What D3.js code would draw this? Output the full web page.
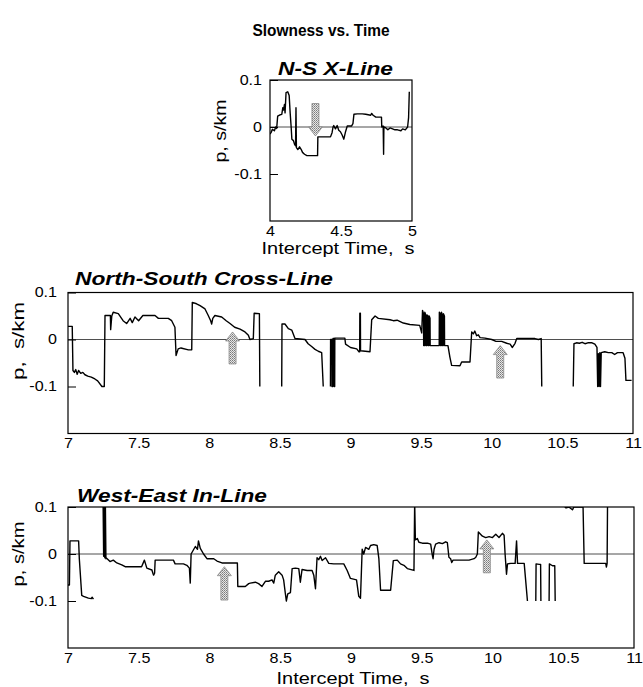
<!DOCTYPE html>
<html>
<head>
<meta charset="utf-8">
<script src="https://cdn.jsdelivr.net/npm/d3@7"></script>
<style>
  body { margin: 0; background: #fff; }
  svg { display: block; }
  text { font-family: "Liberation Sans", Arial, Helvetica, sans-serif; fill: #000; }
</style>
</head>
<body>
<div id="chart"></div>
<script>
// --- data: [intercept time (s), slowness p (s/km)], null = gap
const xlineTrace = [
  [4.000,-0.015],[4.007,-0.012],[4.017,-0.005],[4.031,-0.008],[4.040,0.000],[4.047,-0.003],
  [4.054,0.023],[4.071,0.026],[4.083,0.027],[4.090,0.041],[4.095,0.036],[4.102,0.048],
  [4.106,0.030],[4.113,0.073],[4.125,0.075],[4.135,0.067],[4.142,0.030],[4.149,0.000],
  [4.154,-0.026],[4.165,-0.029],[4.173,-0.037],[4.180,-0.040],[4.183,0.041],[4.186,-0.044],
  [4.196,-0.048],[4.208,-0.042],[4.220,-0.048],[4.229,-0.054],[4.243,-0.058],[4.260,-0.061],
  [4.335,-0.061],[4.337,-0.021],[4.426,-0.021],[4.437,-0.012],[4.444,0.000],[4.449,0.003],
  [4.461,-0.004],[4.473,0.003],[4.484,-0.007],[4.496,-0.010],[4.508,-0.017],[4.520,-0.026],
  [4.532,-0.010],[4.544,0.002],[4.574,0.002],[4.584,0.007],[4.591,0.027],[4.615,0.028],
  [4.650,0.028],[4.674,0.027],[4.709,0.025],[4.716,0.029],[4.726,0.025],[4.745,0.021],
  [4.785,0.021],[4.787,0.000],[4.797,0.002],[4.800,-0.058],[4.802,0.000],[4.816,-0.002],
  [4.830,-0.006],[4.845,-0.002],[4.863,-0.004],[4.880,-0.006],[4.898,-0.006],[4.922,-0.008],
  [4.934,-0.004],[4.953,-0.006],[4.969,0.000],[4.976,0.020],[4.981,0.075]
];

const crossTrace = [
  [7.000,0.028],[7.030,0.028],[7.035,-0.066],[7.045,-0.070],[7.055,-0.064],[7.065,-0.074],
  [7.075,-0.066],[7.090,-0.072],[7.105,-0.070],[7.120,-0.075],[7.140,-0.078],[7.165,-0.080],
  [7.190,-0.084],[7.210,-0.088],[7.240,-0.100],[7.257,-0.100],[7.262,0.051],[7.300,0.051],
  [7.302,0.021],[7.310,0.050],[7.320,0.058],[7.356,0.055],[7.390,0.040],[7.415,0.034],
  [7.440,0.045],[7.455,0.036],[7.474,0.048],[7.500,0.040],[7.530,0.051],[7.616,0.051],
  [7.640,0.045],[7.710,0.045],[7.734,0.040],[7.757,0.026],[7.765,-0.034],[7.780,-0.020],
  [7.800,-0.018],[7.852,-0.022],[7.876,-0.022],[7.880,0.079],[7.910,0.076],[7.935,0.072],
  [7.970,0.065],[7.993,0.051],[8.010,0.040],[8.017,0.033],[8.025,0.045],[8.040,0.051],
  [8.088,0.048],[8.120,0.040],[8.147,0.034],[8.180,0.026],[8.218,0.022],[8.253,0.016],
  [8.277,0.009],[8.288,0.000],[8.312,0.002],[8.318,0.056],[8.355,0.055],[8.358,-0.100],
  null,
  [8.513,-0.100],[8.515,0.033],[8.536,0.033],[8.560,0.023],[8.584,0.020],[8.607,0.002],
  [8.678,0.000],[8.700,-0.009],[8.725,-0.015],[8.749,-0.021],[8.772,-0.025],[8.796,-0.028],
  [8.807,-0.100],
  null,
  [8.858,-0.100],[8.859,0.000],[8.868,0.000],[8.869,-0.100],[8.875,-0.100],[8.876,0.002],
  [8.884,0.002],[8.885,-0.100],[8.888,-0.100],[8.889,0.003],[8.920,0.003],[8.960,0.003],
  [8.965,-0.010],[9.000,-0.017],[9.044,-0.020],[9.060,-0.026],[9.065,-0.026],[9.066,0.056],
  [9.070,0.056],[9.071,-0.024],[9.138,-0.026],[9.150,0.042],[9.174,0.050],[9.197,0.045],
  [9.280,0.042],[9.303,0.040],[9.330,0.041],[9.374,0.035],[9.420,0.032],[9.490,0.030],
  [9.504,0.014],[9.510,0.062],[9.517,0.055],[9.518,-0.013],[9.525,-0.013],[9.526,0.058],
  [9.533,0.052],[9.534,-0.013],[9.541,-0.013],[9.542,0.052],[9.549,0.050],[9.550,-0.013],
  [9.556,-0.013],[9.557,0.050],[9.563,0.045],[9.564,-0.013],[9.628,-0.013],[9.629,0.058],
  [9.636,0.055],[9.637,-0.013],[9.643,-0.013],[9.644,0.058],[9.650,0.052],[9.651,-0.013],
  [9.657,-0.013],[9.658,0.055],[9.665,0.050],[9.666,-0.013],[9.690,-0.013],[9.704,-0.038],
  [9.716,-0.055],[9.775,-0.056],[9.787,-0.048],[9.846,-0.048],[9.858,0.016],[9.870,0.012],
  [9.880,0.018],[9.893,0.008],[9.905,0.010],[9.917,0.004],[9.952,0.003],[10.000,0.000],
  [10.030,-0.004],[10.070,-0.004],[10.106,-0.008],[10.130,-0.010],[10.146,-0.017],
  [10.165,-0.008],[10.177,0.002],[10.306,0.002],[10.330,0.000],[10.350,0.002],[10.354,-0.100],
  null,
  [10.577,-0.100],[10.582,-0.009],[10.600,-0.007],[10.620,-0.008],[10.640,-0.006],
  [10.660,-0.009],[10.680,-0.007],[10.710,-0.007],[10.730,-0.010],[10.745,-0.017],
  [10.750,-0.100],[10.755,-0.030],[10.760,-0.100],[10.765,-0.028],[10.770,-0.100],
  [10.775,-0.028],[10.800,-0.026],[10.825,-0.028],[10.850,-0.028],[10.870,-0.032],
  [10.890,-0.028],[10.930,-0.028],[10.943,-0.040],[10.950,-0.087],[10.990,-0.087]
];

const inlineTrace = [
  [7.000,-0.066],[7.010,-0.066],[7.014,0.028],[7.075,0.028],[7.080,-0.010],[7.097,-0.088],
  [7.110,-0.090],[7.144,-0.094],[7.165,-0.095],[7.170,-0.092],[7.180,-0.096],
  null,
  [7.248,0.110],[7.252,-0.005],[7.256,0.110],[7.260,-0.008],[7.264,0.110],[7.268,-0.010],
  [7.273,-0.009],[7.297,-0.016],[7.320,-0.013],[7.345,-0.019],[7.380,-0.023],[7.404,-0.027],
  [7.520,-0.027],[7.540,-0.013],[7.557,-0.030],[7.593,-0.034],[7.600,-0.041],[7.605,-0.045],
  [7.612,-0.041],[7.616,-0.013],[7.745,-0.013],[7.757,-0.021],[7.816,-0.021],[7.840,-0.024],
  [7.858,-0.030],[7.864,-0.062],[7.870,0.000],[7.900,0.016],[7.915,0.010],[7.922,0.028],
  [7.935,0.012],[7.958,0.000],[7.982,-0.010],[8.030,-0.010],[8.053,-0.015],[8.088,-0.019],
  [8.197,-0.019],[8.200,-0.069],[8.253,-0.069],[8.277,-0.063],[8.288,-0.062],[8.324,-0.060],
  [8.347,-0.063],[8.371,-0.069],[8.395,-0.058],[8.418,-0.058],[8.442,-0.055],[8.454,-0.062],
  [8.465,-0.045],[8.489,-0.038],[8.513,-0.045],[8.524,-0.055],[8.536,-0.084],[8.543,-0.100],
  [8.553,-0.085],[8.572,-0.082],[8.584,-0.031],[8.607,-0.030],[8.631,-0.031],[8.642,-0.060],
  [8.654,-0.033],[8.690,-0.035],[8.725,-0.035],[8.737,-0.045],[8.749,-0.074],[8.760,-0.008],
  [8.772,-0.012],[8.784,-0.005],[8.796,-0.014],[8.820,-0.008],[8.843,-0.020],[8.878,-0.021],
  [8.949,-0.021],[8.973,-0.035],[8.996,-0.052],[9.039,-0.055],[9.055,-0.090],[9.067,-0.094],
  [9.079,0.010],[9.090,0.000],[9.103,0.014],[9.126,0.010],[9.138,0.018],[9.161,0.020],
  [9.185,0.018],[9.197,-0.010],[9.209,-0.077],[9.280,-0.077],[9.299,-0.014],[9.327,-0.013],
  [9.350,-0.021],[9.374,-0.024],[9.398,-0.031],[9.445,-0.035],[9.450,0.110],[9.455,0.030],
  [9.469,0.033],[9.480,0.025],[9.504,0.023],[9.540,0.023],[9.563,0.021],[9.575,-0.003],
  [9.580,-0.010],[9.587,0.010],[9.598,0.021],[9.622,0.024],[9.646,0.022],[9.669,0.026],
  [9.681,0.024],[9.692,-0.007],[9.704,-0.010],[9.712,-0.018],[9.721,-0.013],[9.834,-0.013],
  [9.870,-0.010],[9.882,-0.007],[9.893,0.000],[9.900,0.047],[9.929,0.038],[9.952,0.035],
  [9.976,0.037],[10.000,0.035],[10.023,0.042],[10.046,0.035],[10.070,0.044],[10.082,0.040],
  [10.089,0.000],[10.099,-0.043],[10.106,-0.021],[10.130,-0.020],[10.160,-0.020],
  [10.170,0.028],[10.177,-0.020],[10.224,-0.020],[10.247,-0.100],
  null,
  [10.306,-0.100],[10.308,-0.021],[10.330,-0.022],[10.340,-0.022],[10.342,-0.100],
  null,
  [10.400,-0.100],[10.402,-0.021],[10.424,-0.025],[10.440,-0.025],[10.443,-0.100],
  null,
  [10.480,0.110],[10.520,0.098],[10.540,0.100],[10.565,0.094],[10.575,0.100],[10.640,0.100],
  [10.648,-0.020],[10.700,-0.020],[10.800,-0.020],[10.805,-0.028],[10.810,-0.020],[10.813,0.110]
];

// arrows: [time, tip p, tail p]
const xlineArrows = [[4.32, -0.019, 0.050]];
const crossArrows = [[8.165, 0.016, -0.052], [10.06, -0.013, -0.082]];
const inlineArrows = [[8.105, -0.027, -0.098], [9.96, 0.030, -0.040]];

const pTicks = [-0.1, 0, 0.1];
const shortTimeTicks = [4, 4.5, 5];
const longTimeTicks = [7, 7.5, 8, 8.5, 9, 9.5, 10, 10.5, 11];

const width = 643;
const height = 687;

const svg = d3.select('#chart')
  .append('svg')
  .attr('width', width)
  .attr('height', height);

// fine dotted gray fill for the arrows
const defs = svg.append('defs');
const pat = defs.append('pattern')
  .attr('id', 'stipple')
  .attr('patternUnits', 'userSpaceOnUse')
  .attr('width', 2).attr('height', 2);
pat.append('rect').attr('width', 2).attr('height', 2).attr('fill', '#e6e6e6');
pat.append('rect').attr('width', 1).attr('height', 1).attr('fill', '#7a7a7a');
pat.append('rect').attr('x', 1).attr('y', 1).attr('width', 1).attr('height', 1).attr('fill', '#9a9a9a');

function stretch(sel, k) {
  sel.each(function() {
    const w = this.getComputedTextLength();
    d3.select(this).attr('textLength', w * k).attr('lengthAdjust', 'spacingAndGlyphs');
  });
}

function fit(sel, len) {
  sel.attr('textLength', len).attr('lengthAdjust', 'spacingAndGlyphs');
}

function panel(opt) {
  const x = d3.scaleLinear().domain(opt.xDomain).range([opt.left, opt.right]);
  const y = d3.scaleLinear().domain([-0.2, 0.1]).range([opt.bottom, opt.top]);
  const g = svg.append('g');

  defs.append('clipPath').attr('id', opt.id)
    .append('rect')
    .attr('x', opt.left).attr('y', opt.top)
    .attr('width', opt.right - opt.left).attr('height', opt.bottom - opt.top);

  // zero line
  g.append('line')
    .attr('x1', opt.left).attr('x2', opt.right)
    .attr('y1', y(0)).attr('y2', y(0))
    .attr('stroke', '#222').attr('stroke-width', 0.8);

  // y axis, ticks pointing inward
  const ya = g.append('g')
    .attr('transform', `translate(${opt.left},0)`)
    .call(d3.axisLeft(y).tickValues(pTicks).tickSize(-8).tickPadding(opt.yPad)
      .tickFormat(d => d === 0 ? '0' : String(d)));
  ya.select('.domain').remove();
  ya.selectAll('line').attr('stroke', '#000').attr('stroke-width', 1);
  ya.selectAll('text').style('font-size', opt.tickFont + 'px').attr('fill', '#000');
  stretch(ya.selectAll('text'), 1.15);

  // x axis
  const xa = g.append('g')
    .attr('transform', `translate(0,${opt.bottom})`)
    .call(d3.axisBottom(x).tickValues(opt.xTicks).tickSize(0).tickPadding(5)
      .tickFormat(d => String(d)));
  xa.select('.domain').remove();
  xa.selectAll('text').style('font-size', opt.tickFont + 'px').attr('fill', '#000');
  stretch(xa.selectAll('text'), 1.15);

  // trace
  const line = d3.line()
    .defined(d => d !== null)
    .x(d => x(d[0]))
    .y(d => y(d[1]));
  g.append('path')
    .datum(opt.trace)
    .attr('clip-path', `url(#${opt.id})`)
    .attr('d', line)
    .attr('fill', 'none')
    .attr('stroke', '#000')
    .attr('stroke-width', 1.4)
    .attr('stroke-linejoin', 'round');

  // frame
  g.append('rect')
    .attr('x', opt.left).attr('y', opt.top)
    .attr('width', opt.right - opt.left).attr('height', opt.bottom - opt.top)
    .attr('fill', 'none').attr('stroke', '#000').attr('stroke-width', 1.2);

  // hatched arrows
  opt.arrows.forEach(a => {
    const cx = x(a[0]);
    const tip = y(a[1]);
    const tail = y(a[2]);
    const dir = tail > tip ? 1 : -1; // 1: pointing up
    const headLen = 9 * dir;
    const pts = [
      [cx, tip],
      [cx + 7, tip + headLen],
      [cx + 3.5, tip + headLen],
      [cx + 3.5, tail],
      [cx - 3.5, tail],
      [cx - 3.5, tip + headLen],
      [cx - 7, tip + headLen]
    ];
    g.append('path')
      .attr('d', 'M' + pts.join('L') + 'Z')
      .attr('fill', 'url(#stipple)')
      .attr('stroke', '#8a8a8a')
      .attr('stroke-width', 0.8);
  });

  // panel title
  const t = g.append('text')
    .attr('x', opt.titleX).attr('y', opt.titleY)
    .style('font-size', '19px').style('font-weight', 'bold').style('font-style', 'italic')
    .text(opt.title);
  fit(t, opt.titleLen);

  // y label
  const yl = g.append('text')
    .attr('transform', `translate(${opt.yLabelX},${opt.yLabelY}) rotate(-90)`)
    .attr('text-anchor', 'middle')
    .style('font-size', '16px')
    .style('white-space', 'pre')
    .text(opt.yLabel);
  fit(yl, opt.yLabelLen);

  // x label
  if (opt.xLabel) {
    const xl = g.append('text')
      .attr('x', opt.xLabelX).attr('y', opt.xLabelY)
      .attr('text-anchor', 'middle')
      .style('font-size', '17px')
      .style('white-space', 'pre')
      .text(opt.xLabel);
    fit(xl, 153);
  }
}

// main title
const mt = svg.append('text')
  .attr('x', 321).attr('y', 36)
  .attr('text-anchor', 'middle')
  .style('font-size', '17px').style('font-weight', 'bold')
  .text('Slowness vs. Time');
fit(mt, 137);

panel({
  id: 'clipTop', xDomain: [4, 5], xTicks: shortTimeTicks,
  left: 270, right: 412, top: 80, bottom: 221,
  trace: xlineTrace, arrows: xlineArrows, tickFont: 14, yPad: 8,
  title: 'N-S X-Line', titleX: 278, titleY: 75, titleLen: 115,
  yLabel: 'p, s/km', yLabelX: 226, yLabelY: 131, yLabelLen: 63,
  xLabel: 'Intercept Time,  s', xLabelX: 338, xLabelY: 254
});

panel({
  id: 'clipMid', xDomain: [7, 11], xTicks: longTimeTicks,
  left: 68, right: 633, top: 292.5, bottom: 433.5,
  trace: crossTrace, arrows: crossArrows, tickFont: 14, yPad: 11,
  title: 'North-South Cross-Line', titleX: 75, titleY: 285, titleLen: 258,
  yLabel: 'p,  s/km', yLabelX: 23.5, yLabelY: 341, yLabelLen: 78,
  xLabel: null
});

panel({
  id: 'clipBot', xDomain: [7, 11], xTicks: longTimeTicks,
  left: 68, right: 634, top: 507, bottom: 648,
  trace: inlineTrace, arrows: inlineArrows, tickFont: 14, yPad: 11,
  title: 'West-East In-Line', titleX: 77, titleY: 502, titleLen: 190,
  yLabel: 'p, s/km', yLabelX: 23.5, yLabelY: 554, yLabelLen: 65,
  xLabel: 'Intercept Time,  s', xLabelX: 353, xLabelY: 684
});
</script>
</body>
</html>
